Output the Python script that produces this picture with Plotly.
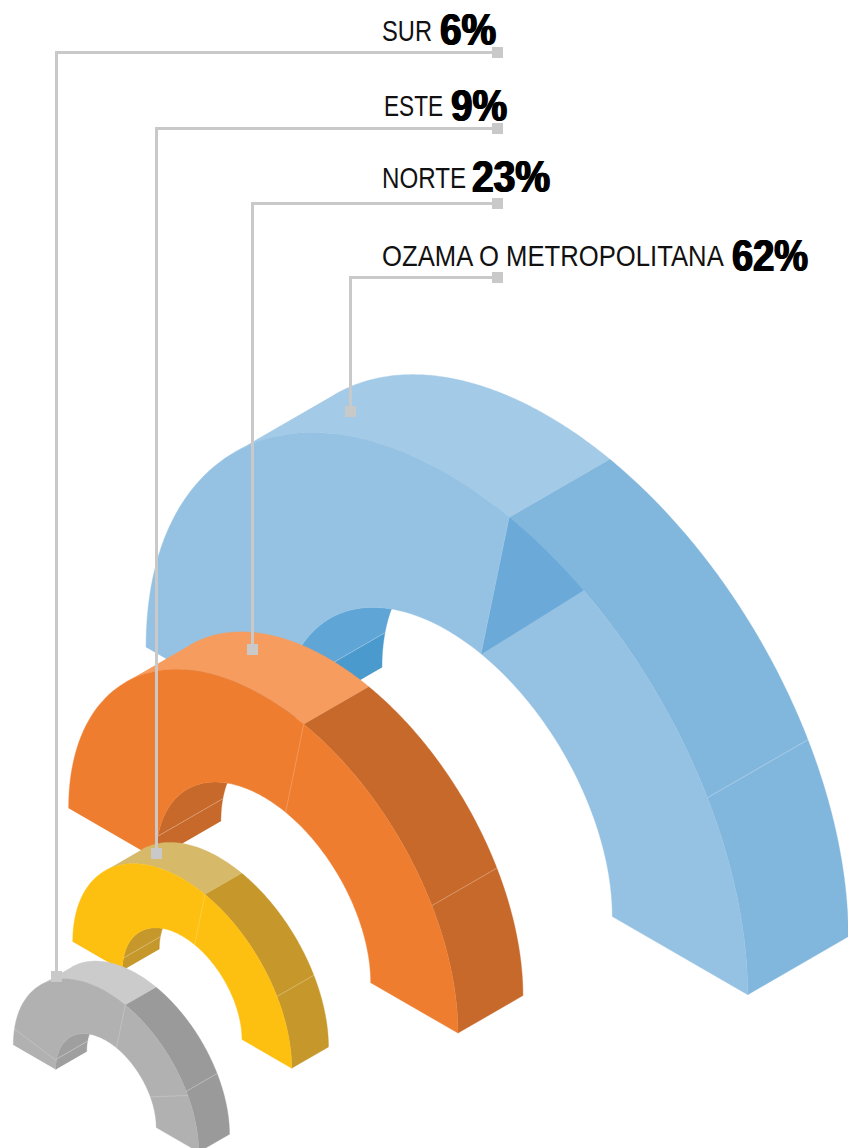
import json
import numpy as np
import plotly.graph_objects as go

# --- data ---
regions = ["OZAMA O METROPOLITANA", "NORTE", "ESTE", "SUR"]
shares = [62, 23, 9, 6]

# --- arch geometry (pixel space of the isometric drawing) ---
centers = [(446.9, 821.0), (263.3, 920.7), (182.2, 1005.0), (106.0, 1098.5)]
outer_r = [347.4, 224.8, 126.4, 107.0]
inner_r = [191.0, 124.0, 69.0, 58.0]
depths = [116.0, 75.0, 42.5, 35.6]

front_col = ["#95c2e3", "#ef7d2f", "#fdc010", "#b1b1b1"]
top_col = ["#a3cae6", "#f69c5e", "#d6b969", "#cbcbcb"]
side_col = ["#81b6dd", "#c7692b", "#c6972a", "#9a9a9a"]
inner_col = ["#5fa5d5", "#c7692b", "#c6972a", "#9f9f9f"]
inner_low_col = ["#4a9ace", "#c7692b", "#c6972a", "#9f9f9f"]
front_seams = [[78], [78], [78], [78, 28, 171]]

# --- label and leader layout ---
name_x = [382, 382, 384, 382]
name_y = [255, 177.5, 105, 30]
name_w = [342, 84, 59, 50]
pct_x = [732, 472, 451, 440]
pct_y = [255.5, 176, 105.5, 29.5]
pct_w = [76, 78, 56, 56]
leader_y = [277.5, 203.5, 128.5, 52.5]
leader_x = [350.5, 252.5, 156.5, 56.5]
leader_end = [411.5, 649.5, 853.5, 976.5]
leader_start_x = 497.5

U = np.array([np.sqrt(3) / 2, 0.5])
V = np.array([0.0, -1.0])
W = np.array([np.sqrt(3) / 2, -0.5])


def arc(c, r, t0, t1, d=0.0, n=120):
    t = np.radians(np.linspace(t0, t1, n))
    pts = np.array(c) + np.outer(r * np.cos(t), U) + np.outer(r * np.sin(t), V) + d * W
    return pts


fig = go.Figure()


def poly(parts, color):
    p = np.vstack(parts)
    fig.add_trace(go.Scatter(x=p[:, 0], y=p[:, 1], mode="lines", fill="toself",
                             fillcolor=color, line=dict(width=0.4, color=color, simplify=False),
                             hoverinfo="skip", showlegend=False))


def seam(parts, alpha):
    p = np.vstack(parts)
    fig.add_trace(go.Scatter(x=p[:, 0], y=p[:, 1], mode="lines",
                             line=dict(width=0.8, color=f"rgba(255,255,255,{alpha})", simplify=False),
                             hoverinfo="skip", showlegend=False))


for i in range(len(regions)):
    c, R, r, d = centers[i], outer_r[i], inner_r[i], depths[i]
    # outer band, sunlit part
    poly([arc(c, R, 135, 78), arc(c, R, 78, 135, d)], top_col[i])
    # outer band, shaded part
    poly([arc(c, R, 78, 0), arc(c, R, 0, 78, d)], side_col[i])
    # visible part of the inner surface
    a = np.degrees(np.arccos(d / (np.sqrt(2) * r)))
    tf, tb = 45 + a, 225 - a
    split = 169
    poly([arc(c, r, 180, split), arc(c, r, split, 180, d)], inner_low_col[i])
    poly([arc(c, r, split, tf), arc(c, r, tb, split, d)], inner_col[i])
    # front face
    poly([arc(c, R, 180, 0), arc(c, r, 0, 180)], front_col[i])
    # seams
    seam([arc(c, R, 30, 30, 0, 1), arc(c, R, 30, 30, d, 1)], 0.4)
    seam([arc(c, r, split, split, 0, 1), arc(c, r, split, split, d, 1)], 0.3)
    for s in front_seams[i]:
        seam([arc(c, R, s, s, 0, 1), arc(c, r, s, s, 0, 1)], 0.25)
    if i == 0:
        poly([arc(c, R, 78, 63), arc(c, r, 78, 78, 0, 1)], "#6aa9d8")

# leaders
for i in range(len(regions)):
    fig.add_trace(go.Scatter(
        x=[leader_start_x, leader_x[i], leader_x[i]],
        y=[leader_y[i], leader_y[i], leader_end[i]],
        mode="lines", line=dict(width=3, color="#c9c9c9"),
        hoverinfo="skip", showlegend=False))
    fig.add_trace(go.Scatter(
        x=[leader_start_x, leader_x[i]], y=[leader_y[i], leader_end[i]],
        mode="markers", marker=dict(symbol="square", size=11, color="#c9c9c9", line=dict(width=0)),
        hoverinfo="skip", showlegend=False))

# labels
targets = []
for i in range(len(regions)):
    fig.add_annotation(x=name_x[i], y=name_y[i], xref="x", yref="y", text=regions[i],
                       xanchor="left", yanchor="middle", showarrow=False, borderpad=0, borderwidth=0,
                       font=dict(family="Liberation Sans", size=30, color="#111111"))
    fig.add_annotation(x=pct_x[i], y=pct_y[i], xref="x", yref="y", text=f"<b>{shares[i]}%</b>",
                       xanchor="left", yanchor="middle", showarrow=False, borderpad=0, borderwidth=0,
                       font=dict(family="Liberation Sans", size=45, color="#000000",
                                 shadow="0.9px 0 0 #000, -0.9px 0 0 #000"))
    targets += [name_w[i], pct_w[i]]

fig.update_layout(width=848, height=1148, margin=dict(l=0, r=0, t=0, b=0),
                  paper_bgcolor="white", plot_bgcolor="white", showlegend=False,
                  xaxis=dict(range=[0, 848], visible=False, fixedrange=True),
                  yaxis=dict(range=[1148, 0], visible=False, fixedrange=True))

# The labels use a condensed type: narrow each text horizontally, keeping its left edge.
post = """
document.body.style.margin='0';
(function(){
  var widths = %s;
  function narrow(){
    document.querySelectorAll('.annotation-text').forEach(function(t,i){
      var b = t.getBBox();
      if(!b.width) return;
      var s = widths[i]/b.width;
      t.setAttribute('transform','matrix('+s+',0,0,1,'+(b.x*(1-s))+',0)');
    });
  }
  narrow();
  setTimeout(narrow,50);
  setTimeout(narrow,300);
})();
""" % json.dumps(targets)
fig.write_html("out.html", config={"displayModeBar": False}, post_script=post)
